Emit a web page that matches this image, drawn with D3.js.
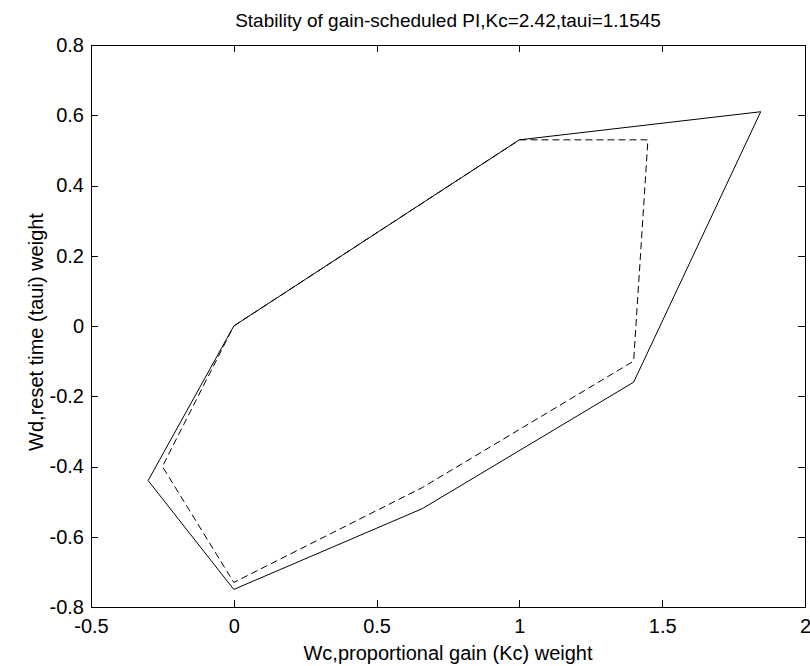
<!DOCTYPE html>
<meta charset='utf-8'>
<style>
    body { margin: 0; background: #fff; }
    text { font-family: Arial, 'Liberation Sans', sans-serif; fill: #000; }
    .frame { fill: none; stroke: #000; stroke-width: 1; shape-rendering: crispEdges; }
    .tick line { stroke: #000; shape-rendering: crispEdges; }
    .bound { fill: none; stroke: #000; stroke-width: 1; }
</style>

<svg width="810" height="666"></svg>
<script src="https://d3js.org/d3.v7.min.js"></script>

<script>

// x ticks / y ticks as shown
var xTicks = [-0.5, 0, 0.5, 1, 1.5, 2],
    yTicks = [-0.8, -0.6, -0.4, -0.2, 0, 0.2, 0.4, 0.6, 0.8];

// solid boundary (Wc, Wd)
var solidWc = [0, 1, 1.845, 1.4, 0.66, 0, -0.3, 0],
    solidWd = [0, 0.53, 0.61, -0.16, -0.52, -0.75, -0.44, 0];

// dashed boundary (Wc, Wd)
var dashWc = [0, 1, 1.45, 1.4, 0.66, 0, -0.25, 0],
    dashWd = [0, 0.53, 0.53, -0.10, -0.46, -0.73, -0.40, 0];

var svg = d3.select('svg');

var mLeft = 91, mRight = 805, mTop = 45, mBottom = 607;

var x = d3.scaleLinear().domain([-0.5, 2]).range([mLeft, mRight]),
    y = d3.scaleLinear().domain([-0.8, 0.8]).range([mBottom, mTop]);

// matlab style labels, plain hyphen for minus
var fmt = function(d) { return String(+d.toFixed(1)); };

svg.append('rect').attr('width', 810).attr('height', 666).attr('fill', '#fff');

// ticks inside on all four sides
svg.append('g').attr('transform', 'translate(0,' + mBottom + ')')
    .call(d3.axisBottom(x).tickValues(xTicks).tickSizeInner(-7).tickSizeOuter(0).tickPadding(12).tickFormat(fmt))
    .call(function(g) { g.select('.domain').remove(); g.selectAll('text').attr('font-size', 20).attr('font-family', null); });

svg.append('g').attr('transform', 'translate(0,' + mTop + ')')
    .call(d3.axisTop(x).tickValues(xTicks).tickSizeInner(-7).tickSizeOuter(0).tickFormat(''))
    .call(function(g) { g.select('.domain').remove(); });

svg.append('g').attr('transform', 'translate(' + mLeft + ',0)')
    .call(d3.axisLeft(y).tickValues(yTicks).tickSizeInner(-7).tickSizeOuter(0).tickPadding(7).tickFormat(fmt))
    .call(function(g) { g.select('.domain').remove(); g.selectAll('text').attr('font-size', 20).attr('font-family', null); });

svg.append('g').attr('transform', 'translate(' + mRight + ',0)')
    .call(d3.axisRight(y).tickValues(yTicks).tickSizeInner(-7).tickSizeOuter(0).tickFormat(''))
    .call(function(g) { g.select('.domain').remove(); });

svg.append('rect').attr('class', 'frame')
    .attr('x', mLeft).attr('y', mTop)
    .attr('width', mRight - mLeft).attr('height', mBottom - mTop);

var line = d3.line()
    .x(function(d) { return x(d[0]); })
    .y(function(d) { return y(d[1]); });

svg.append('path').attr('class', 'bound')
    .datum(d3.zip(solidWc, solidWd))
    .attr('d', line);

svg.append('path').attr('class', 'bound')
    .datum(d3.zip(dashWc, dashWd))
    .attr('stroke-dasharray', '7,4')
    .attr('d', line);

svg.append('text')
    .attr('x', (mLeft + mRight) / 2).attr('y', 27)
    .attr('text-anchor', 'middle').attr('font-size', 19)
    .text('Stability of gain-scheduled PI,Kc=2.42,taui=1.1545');

svg.append('text')
    .attr('x', (mLeft + mRight) / 2).attr('y', 660)
    .attr('text-anchor', 'middle').attr('font-size', 20)
    .text('Wc,proportional gain (Kc) weight');

svg.append('text')
    .attr('transform', 'translate(43,' + ((mTop + mBottom) / 2 + 6) + ') rotate(-90)')
    .attr('text-anchor', 'middle').attr('font-size', 20)
    .text('Wd,reset time (taui) weight');

</script>
